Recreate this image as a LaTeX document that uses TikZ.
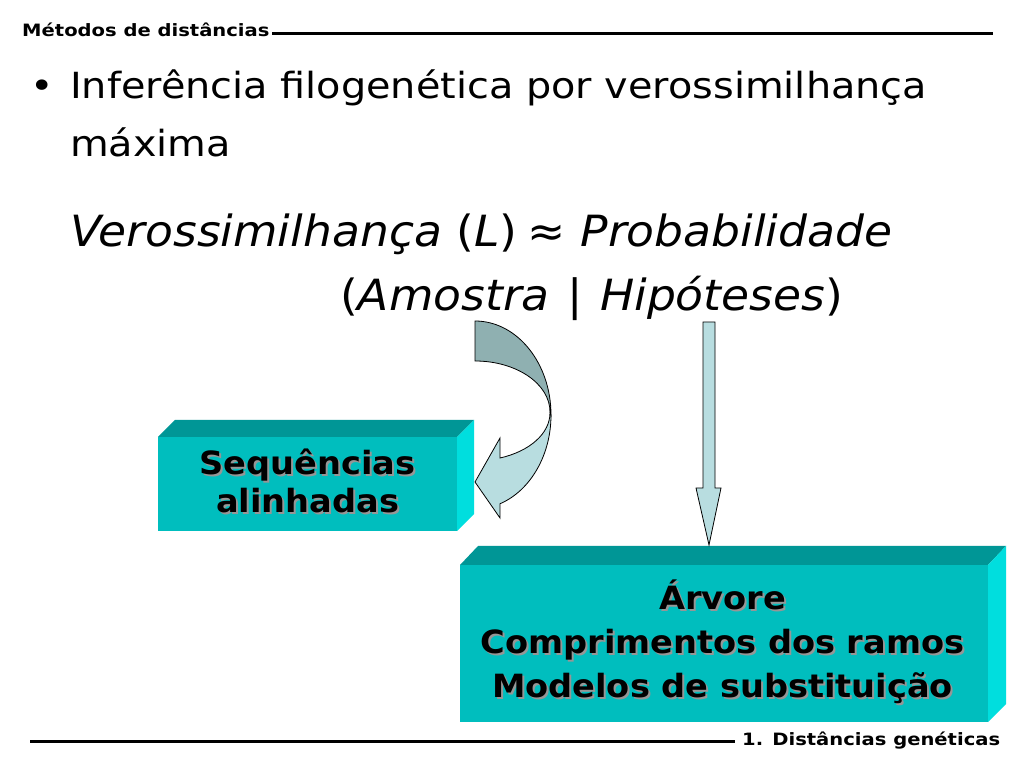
\documentclass[tikz,border=0pt]{standalone}
\usepackage{fontspec}
\setmainfont{DejaVu Sans}
\newfontfamily\hdrfont[FakeStretch=1.15]{DejaVu Sans}
\newfontfamily\ttlfont[FakeStretch=1.105]{DejaVu Sans}
\newfontfamily\itfont[FakeStretch=1.06]{DejaVu Sans}
\newfontfamily\boxfont[FakeStretch=1.05]{DejaVu Sans}
\definecolor{frontc}{RGB}{0,190,190}
\definecolor{topc}{RGB}{0,150,150}
\definecolor{sidec}{RGB}{0,222,222}
\definecolor{arrlight}{RGB}{184,221,224}
\definecolor{arrdark}{RGB}{143,176,177}
\definecolor{shadowc}{RGB}{150,150,150}
\tikzset{
  hdr/.style={font=\hdrfont\fontsize{17}{20}\selectfont\bfseries, inner sep=0pt, anchor=base west},
  bodytxt/.style={font=\ttlfont\fontsize{36}{40}\selectfont, inner sep=0pt, anchor=base west},
  itxt/.style={font=\itfont\fontsize{43}{48}\selectfont\itshape, inner sep=0pt, anchor=base west},
  boxtxt/.style={font=\boxfont\fontsize{32}{38}\selectfont\bfseries, inner sep=0pt, align=center},
  boxtxtb/.style={font=\boxfont\fontsize{32}{44}\selectfont\bfseries, inner sep=0pt, align=center},
  blockarrow/.style={draw=black, line width=0.8pt, line join=miter},
}
\begin{document}
\begin{tikzpicture}[x=1pt,y=1pt]
\useasboundingbox (0,0) rectangle (1024,768);
\fill[white] (0,0) rectangle (1024,768);
% header and footer
\node[hdr] (head) at (22,731) {Métodos de distâncias};
\coordinate (hl1) at (272,734);
\coordinate (hl2) at (993,734);
\draw[line width=3pt] (hl1) -- (hl2);
\coordinate (fl1) at (30,27);
\coordinate (fl2) at (735,27);
\draw[line width=3pt] (fl1) -- (fl2);
\node[hdr] (foot) at (742,23) {1. Distâncias genéticas};
% title
\node[bodytxt] (bul) at (30,669) {•};
\node[bodytxt] (t1) at (70,669) {Inferência filogenética por verossimilhança};
\node[bodytxt] (t2) at (70,611) {máxima};
\node[itxt] (f1) at (70,521) {Verossimilhança {\upshape(}L{\upshape)}\hspace{-4pt} {\upshape≈} Probabilidade};
\node[itxt] (f2) at (340,457) {{\upshape(}Amostra\hspace{3pt} {\upshape|}\hspace{3pt} Hipóteses{\upshape)}};
% box 1
\fill[topc] (158,331) -- (175,348) -- (474,348) -- (457,331) -- cycle;
\fill[sidec] (457,331) -- (474,348) -- (474,254) -- (457,237) -- cycle;
\fill[frontc] (158,237) rectangle (457,331);
% box 2
\fill[topc] (460,203) -- (478,222) -- (1006,222) -- (988,203) -- cycle;
\fill[sidec] (988,203) -- (1006,222) -- (1006,64) -- (988,46) -- cycle;
\fill[frontc] (460,46) rectangle (988,203);
% box texts with shadow
\node[boxtxt, text=shadowc] (s1s) at (309.5,285) {Sequências\\alinhadas};
\node[boxtxt] (s1) at (307.5,287) {Sequências\\alinhadas};
\node[boxtxtb, text=shadowc] (s2s) at (724.5,124.5) {Árvore\\Comprimentos dos ramos\\Modelos de substituição};
\node[boxtxtb] (s2) at (722.5,126.5) {Árvore\\Comprimentos dos ramos\\Modelos de substituição};
% straight block arrow
\filldraw[blockarrow, fill=arrlight] (703,446) -- (715,446) -- (715,280) -- (721,280) -- (709,223) -- (696,280) -- (703,280) -- cycle;
% curved block arrow: light front part
\filldraw[blockarrow, fill=arrlight] (551,353) arc[start angle=0, end angle=-70.8, x radius=76, y radius=94]
  -- (500,250) -- (475,286) -- (500,330) -- (500,310)
  arc[start angle=-70.5, end angle=0, x radius=75, y radius=47.7] -- cycle;
% dark back part
\filldraw[blockarrow, fill=arrdark] (475,447) arc[start angle=90, end angle=0, x radius=76, y radius=94]
  -- (550,356) arc[start angle=0, end angle=90, x radius=75, y radius=51] -- cycle;
\end{tikzpicture}
\end{document}
